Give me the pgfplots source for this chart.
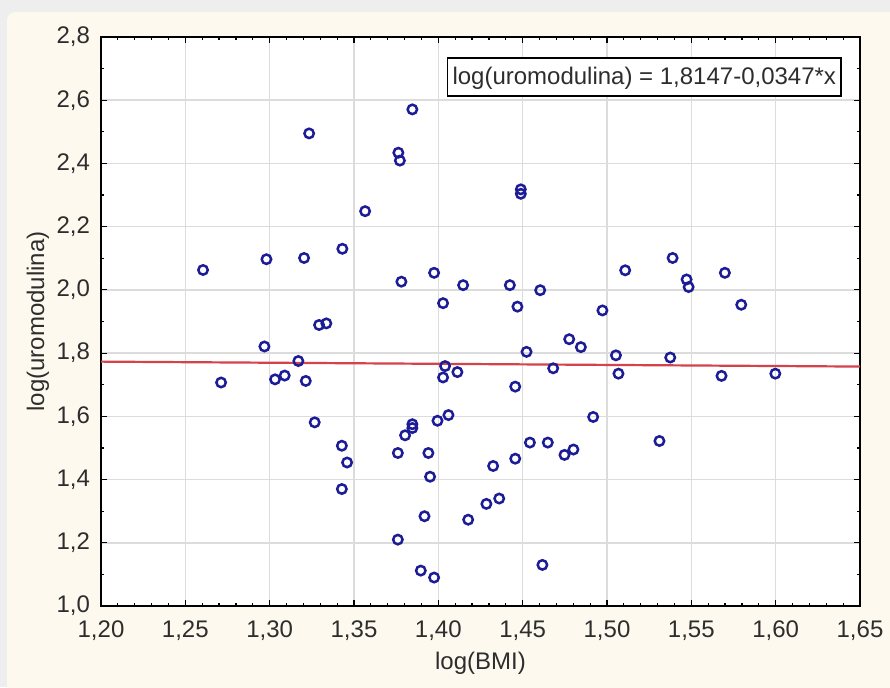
\documentclass[border=0pt]{standalone}
\usepackage{pgfplots}
\pgfplotsset{compat=1.18}
\usepackage{fontspec}
\setmainfont{Liberation Sans}

\definecolor{pagegray}{RGB}{238,238,238}
\definecolor{panelcream}{RGB}{253,249,238}
\definecolor{gridgray}{RGB}{220,220,220}
\definecolor{ptblue}{RGB}{28,28,150}
\definecolor{fitred}{RGB}{212,66,76}
\definecolor{txt}{RGB}{45,45,45}

\pgfplotstableread{
x y
1.3846 2.571
1.3234 2.495
1.3763 2.434
1.3772 2.409
1.4489 2.318
1.4489 2.304
1.3566 2.249
1.3431 2.130
1.2605 2.063
1.2981 2.097
1.3204 2.101
1.3781 2.026
1.3975 2.054
1.4147 2.015
1.4028 1.958
1.4424 2.015
1.4469 1.947
1.4604 1.999
1.4973 1.935
1.5108 2.062
1.5389 2.101
1.5472 2.033
1.5484 2.009
1.5699 2.054
1.5796 1.953
1.3293 1.889
1.3336 1.894
1.2969 1.821
1.3170 1.775
1.2712 1.707
1.3032 1.717
1.3089 1.729
1.3214 1.712
1.3267 1.581
1.3428 1.507
1.3459 1.454
1.3428 1.370
1.4040 1.759
1.4113 1.740
1.4028 1.723
1.4060 1.604
1.3995 1.586
1.3846 1.575
1.3846 1.563
1.3803 1.540
1.3760 1.484
1.3941 1.484
1.3951 1.409
1.3918 1.284
1.3760 1.210
1.3896 1.112
1.3975 1.090
1.4177 1.273
1.4285 1.323
1.4325 1.443
1.4361 1.340
1.4456 1.466
1.4543 1.517
1.4649 1.517
1.4748 1.478
1.4801 1.495
1.4918 1.598
1.4456 1.694
1.4523 1.804
1.4681 1.752
1.4776 1.844
1.4845 1.819
1.5053 1.793
1.5068 1.735
1.5375 1.786
1.5311 1.522
1.5679 1.728
1.5998 1.735
1.4617 1.130
}\bmidata

\begin{document}
\begin{tikzpicture}
  % page and panel background
  \useasboundingbox (0,0) rectangle (445pt,343.5pt);
  \fill[pagegray] (0,0) rectangle (445pt,343.5pt);
  \fill[panelcream, rounded corners=4pt] (3.5pt,-5pt) rectangle (450pt,337.5pt);

  \begin{axis}[
    at={(50.5pt,40.5pt)}, anchor=south west,
    scale only axis, width=379.5pt, height=284.5pt,
    xmin=1.20, xmax=1.65, ymin=1.0, ymax=2.8,
    xtick={1.20,1.25,...,1.66}, ytick={1.0,1.2,...,2.81},
    minor x tick num=4, minor y tick num=1,
    tick align=inside,
    major tick length=3pt, minor tick length=1.6pt,
    every tick/.style={black, line width=0.6pt},
    grid=major,
    major grid style={gridgray, line width=0.8pt},
    axis line style={black, line width=1pt},
    axis background/.style={fill=white},
    font=\fontsize{12}{14}\selectfont,
    every tick label/.append style={txt},
    /pgf/number format/.cd, use comma, fixed, fixed zerofill, precision=2, assume math mode=true,
    /pgfplots/.cd,
    yticklabel style={/pgf/number format/precision=1, xshift=-2pt},
    xticklabel style={yshift=-4pt},
    xlabel={log(BMI)},
    ylabel={log(uromodulina)},
    xlabel style={txt, at={(axis description cs:0.5,0)}, anchor=center, yshift=-28.5pt},
    ylabel style={txt, at={(axis description cs:0,0.5)}, anchor=center, yshift=31.5pt},
    clip=false,
  ]
    % fitted regression line
    \addplot[fitred, line width=1.1pt, no marks] coordinates {(1.20,1.77306) (1.65,1.757445)};
    % observations
    \addplot[only marks, mark=o, mark size=2.35pt, ptblue, mark options={line width=1.25pt}]
      table[x=x, y=y] {\bmidata};

    \node[draw=black, line width=0.9pt, fill=white, anchor=north east,
          inner xsep=2.5pt, inner ysep=2.85pt, text height=10.3pt, text depth=3pt,
          font=\fontsize{12}{14}\selectfont, text=txt]
      at (rel axis cs:1,1) [xshift=-9pt, yshift=-10pt]
      {log(uromodulina) = 1,8147-0,0347*x};
  \end{axis}
\end{tikzpicture}
\end{document}
